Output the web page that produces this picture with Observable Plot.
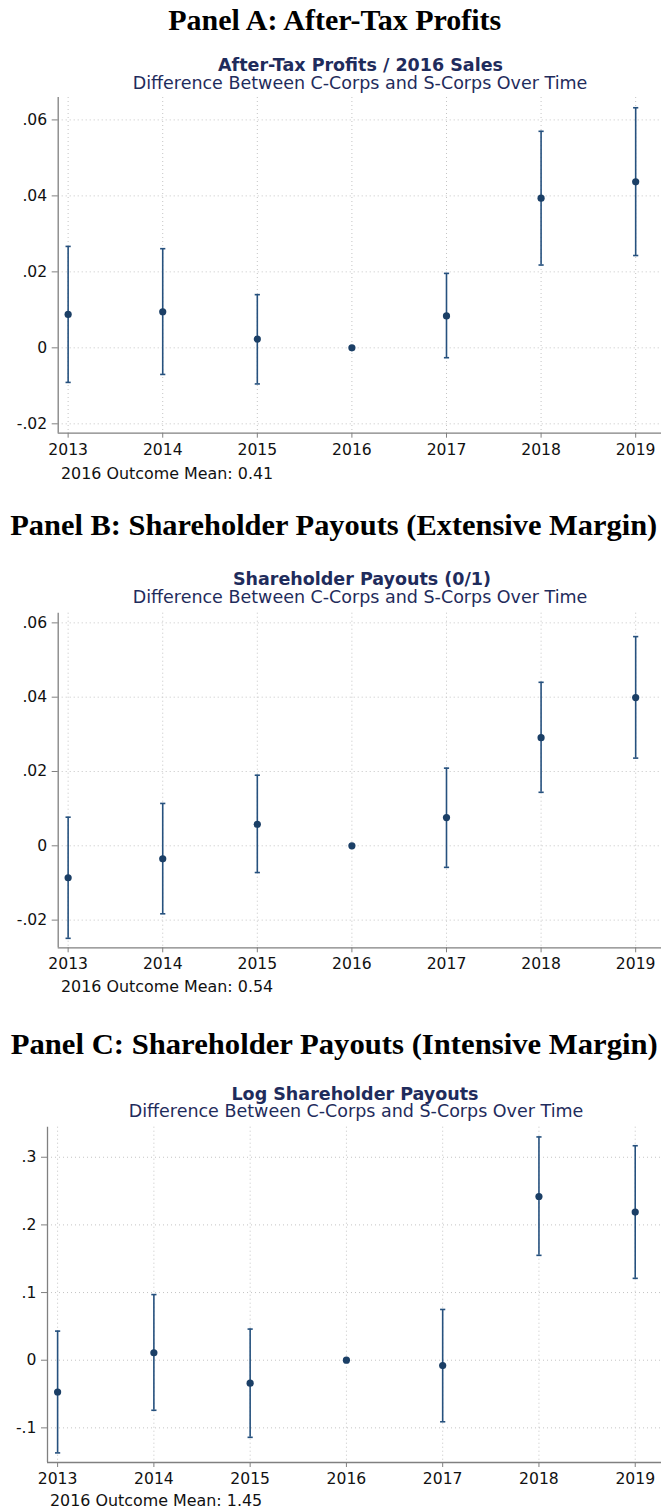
<!DOCTYPE html>
<html><head><meta charset="utf-8">
<script src="https://cdn.jsdelivr.net/npm/d3@7"></script>
<script src="https://cdn.jsdelivr.net/npm/@observablehq/plot@0.6"></script>
<style>
html,body{margin:0;padding:0;background:#fff;}
#root{position:relative;width:661px;height:1511px;overflow:hidden;background:#fff;}
#root svg{position:absolute;left:0;}
.t{position:absolute;white-space:nowrap;line-height:0.88;}
</style></head><body><div id="root"></div>
<script>
// ---------- data ----------
const years = [2013, 2014, 2015, 2016, 2017, 2018, 2019];

const aCoef = [0.0088, 0.0095, 0.0023, 0, 0.0084, 0.0394, 0.0437];
const aLo   = [-0.0091, -0.0070, -0.0095, null, -0.0026, 0.0218, 0.0243];
const aHi   = [0.0267, 0.0261, 0.0140, null, 0.0196, 0.0570, 0.0632];

const bCoef = [-0.0086, -0.0035, 0.0058, 0, 0.0076, 0.0291, 0.0399];
const bLo   = [-0.0249, -0.0183, -0.0072, null, -0.0058, 0.0144, 0.0236];
const bHi   = [0.0077, 0.0114, 0.0190, null, 0.0209, 0.0440, 0.0563];

const cCoef = [-0.047, 0.011, -0.034, 0, -0.008, 0.242, 0.219];
const cLo   = [-0.137, -0.074, -0.114, null, -0.091, 0.155, 0.121];
const cHi   = [0.043, 0.097, 0.046, null, 0.075, 0.330, 0.317];

const abTicks = [-0.02, 0, 0.02, 0.04, 0.06];
const abTickLabels = ["-.02", "0", ".02", ".04", ".06"];
const cTicks = [-0.1, 0, 0.1, 0.2, 0.3];
const cTickLabels = ["-.1", "0", ".1", ".2", ".3"];

const panelHeadings = ["Panel A: After-Tax Profits", "Panel B: Shareholder Payouts (Extensive Margin)", "Panel C: Shareholder Payouts (Intensive Margin)"];
const chartTitles = ["After-Tax Profits / 2016 Sales", "Shareholder Payouts (0/1)", "Log Shareholder Payouts"];
const chartSubtitle = "Difference Between C-Corps and S-Corps Over Time";
const notes = ["2016 Outcome Mean: 0.41", "2016 Outcome Mean: 0.54", "2016 Outcome Mean: 1.45"];

// ---------- styling / layout ----------
const root = document.getElementById("root");
const xDomain = [2012.895, 2019.273];
const DOT = "#1b3f66", BAR = "#26517e", AXIS = "#808080", GRID = "#c4c4c4", TITLE = "#1f2c5c";

const panels = [
  {coef: aCoef, lo: aLo, hi: aHi, ticks: abTicks, labels: abTickLabels, yDomain: [-0.02247, 0.0659],
   svgTop: 90, axisTop: 97, axisBottom: 432.7, axisLeft: 57.7,
   headBase: 30, headW: 333, headX: 335, titleBase: 71, titleX: 360.5, subBase: 88.5, subX: 360, noteBase: 478.5, noteX: 61},
  {coef: bCoef, lo: bLo, hi: bHi, ticks: abTicks, labels: abTickLabels, yDomain: [-0.02745, 0.0626],
   svgTop: 605, axisTop: 612.7, axisBottom: 947.3, axisLeft: 57.7,
   headBase: 535, headW: 647, headX: 334, titleBase: 584.5, titleX: 362, subBase: 603, subX: 360, noteBase: 992, noteX: 61},
  {coef: cCoef, lo: cLo, hi: cHi, ticks: cTicks, labels: cTickLabels, yDomain: [-0.1512, 0.3444],
   svgTop: 1120, axisTop: 1126.7, axisBottom: 1462, axisLeft: 47,
   headBase: 1054, headW: 647, headX: 334, titleBase: 1099.5, titleX: 355, subBase: 1117, subX: 356, noteBase: 1505.5, noteX: 50}
];

const capSymbol = {draw(ctx, size) { const w = Math.sqrt(size / Math.PI); ctx.moveTo(-w, 0); ctx.lineTo(w, 0); }};

function addText(str, {x, baseline, anchor = "middle", family, size, weight = "normal", color = "#000", width = null}) {
  const div = document.createElement("div");
  div.className = "t";
  div.style.fontFamily = family;
  div.style.fontSize = size + "px";
  div.style.fontWeight = weight;
  div.style.color = color;
  div.appendChild(document.createTextNode(str));
  const marker = document.createElement("span");
  marker.style.cssText = "display:inline-block;width:0;height:0;vertical-align:baseline;";
  div.appendChild(marker);
  root.appendChild(div);
  const base = marker.offsetTop;
  const w = div.getBoundingClientRect().width;
  let left = anchor === "middle" ? x - w / 2 : x;
  div.style.left = left + "px";
  div.style.top = (baseline - base) + "px";
  if (width) {
    const s = width / w;
    if (s > 0.8 && s < 1.25) {
      div.style.transformOrigin = anchor === "middle" ? "50% 50%" : "0 50%";
      div.style.transform = `scaleX(${s})`;
    }
  }
  return div;
}

const SVG_H = 370;
panels.forEach((p, k) => {
  const rows = years.map((yr, i) => ({year: yr, coef: p.coef[i], lo: p.lo[i], hi: p.hi[i]}));
  const bars = rows.filter(d => d.lo != null && d.hi != null);
  const chart = Plot.plot({
    width: 661,
    height: SVG_H,
    marginTop: p.axisTop - p.svgTop,
    marginBottom: p.svgTop + SVG_H - p.axisBottom,
    marginLeft: p.axisLeft,
    marginRight: 0,
    x: {domain: xDomain, label: null},
    y: {domain: p.yDomain, label: null},
    style: {fontFamily: "DejaVu Sans", fontSize: "15.6px", background: "white", overflow: "visible", color: "#111"},
    marks: [
      Plot.gridX(years, {stroke: GRID, strokeOpacity: 1, strokeDasharray: "1,3", strokeWidth: 1}),
      Plot.gridY(p.ticks, {stroke: GRID, strokeOpacity: 1, strokeDasharray: "1,3", strokeWidth: 1}),
      Plot.ruleX([xDomain[0]], {stroke: AXIS, strokeWidth: 1.3}),
      Plot.ruleY([p.yDomain[0]], {stroke: AXIS, strokeWidth: 1.3}),
      Plot.axisX({ticks: years, tickFormat: d => String(d), tickSize: 5, tickPadding: 5.5, stroke: AXIS, fill: "#111", label: null}),
      Plot.axisY({ticks: p.ticks, tickFormat: d => p.labels[p.ticks.indexOf(d)], tickSize: 6, tickPadding: 5, stroke: AXIS, fill: "#111", label: null}),
      Plot.ruleX(bars, {x: "year", y1: "lo", y2: "hi", stroke: BAR, strokeWidth: 1.6}),
      Plot.dot(bars, {x: "year", y: "hi", symbol: capSymbol, r: 2.6, stroke: BAR, strokeWidth: 1.6, fill: "none"}),
      Plot.dot(bars, {x: "year", y: "lo", symbol: capSymbol, r: 2.6, stroke: BAR, strokeWidth: 1.6, fill: "none"}),
      Plot.dot(rows, {x: "year", y: "coef", r: 3.6, fill: DOT, stroke: "none"})
    ]
  });
  chart.style.top = p.svgTop + "px";
  root.appendChild(chart);
});

panels.forEach((p, k) => {
  addText(panelHeadings[k], {x: p.headX, baseline: p.headBase, family: "'Liberation Serif', serif", size: 29.5, weight: "bold", color: "#000", width: p.headW});
  addText(chartTitles[k], {x: p.titleX, baseline: p.titleBase, family: "'DejaVu Sans'", size: 17.5, weight: "bold", color: TITLE});
  addText(chartSubtitle, {x: p.subX, baseline: p.subBase, family: "'DejaVu Sans'", size: 17.5, weight: "normal", color: TITLE});
  addText(notes[k], {x: p.noteX, baseline: p.noteBase, anchor: "start", family: "'DejaVu Sans'", size: 15.9, color: "#111"});
});
</script>
</body></html>
